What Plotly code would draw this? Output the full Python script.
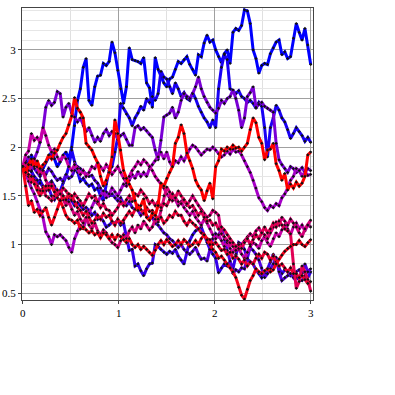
import plotly.graph_objects as go

# sample positions: 101 steps from 0 to 3
n_points = 101
x_step = 0.03
x_values = [round(i * x_step, 2) for i in range(n_points)]

walk_00 = [1.80,1.86,1.83,1.92,1.85,1.81,1.74,1.78,1.84,1.90,1.95,1.88,1.80,1.85,1.91,1.95,1.88,2.00,2.22,2.48,
           2.60,2.82,2.91,2.48,2.43,2.62,2.73,2.74,2.86,2.84,2.88,3.08,2.97,2.79,2.60,2.45,2.62,3.02,2.90,2.89,
           2.88,2.86,2.92,2.66,2.61,2.41,2.92,2.80,2.72,2.66,2.62,2.70,2.72,2.80,2.88,2.86,2.90,2.93,2.85,2.80,
           2.74,2.95,2.93,3.07,3.15,3.08,3.10,3.00,2.93,2.87,2.96,3.00,2.86,3.18,3.22,3.20,3.25,3.41,3.40,3.27,
           3.00,2.91,2.76,2.84,2.86,2.85,2.96,3.02,3.08,3.10,2.95,2.98,2.91,2.93,3.12,3.27,3.18,3.10,3.22,3.05,2.85]
walk_01 = [1.80,1.74,1.79,1.75,1.68,1.62,1.66,1.60,1.56,1.62,1.65,1.60,1.52,1.55,1.63,1.70,1.80,1.97,1.85,1.74,
           1.65,1.68,1.63,1.60,1.62,1.56,1.58,1.50,1.45,1.62,1.76,1.80,1.95,2.10,2.45,2.40,2.34,2.30,2.22,2.30,
           2.35,2.42,2.38,2.50,2.46,2.52,2.48,2.55,2.78,2.72,2.70,2.62,2.55,2.66,2.60,2.52,2.56,2.50,2.48,2.56,
           2.50,2.42,2.36,2.30,2.26,2.20,2.28,2.20,2.60,2.82,2.95,2.90,2.60,2.58,2.55,2.58,2.52,2.50,2.46,2.48,
           2.45,2.40,2.46,2.42,2.20,1.90,2.20,2.30,2.43,2.38,2.30,2.26,2.18,2.09,2.14,2.20,2.16,2.12,2.06,2.10,2.05]
walk_02 = [1.80,1.84,1.78,1.75,1.70,1.66,1.63,1.60,1.55,1.58,1.50,1.46,1.52,1.55,1.50,1.44,1.48,1.45,1.40,1.43,
           1.40,1.36,1.38,1.35,1.30,1.33,1.26,1.28,1.24,1.18,1.20,1.23,1.22,1.25,1.20,1.22,1.08,0.94,0.95,0.78,
           0.80,0.73,0.68,0.75,0.80,0.81,1.00,0.98,0.95,0.92,0.90,0.93,0.91,0.95,0.88,0.84,0.80,0.92,1.04,1.10,
           1.14,1.16,1.18,1.10,1.02,0.95,0.90,0.86,0.71,0.76,0.80,0.78,0.82,0.75,0.90,1.02,1.00,0.95,0.85,0.82,
           0.80,0.74,0.70,0.66,0.70,0.75,0.82,0.90,0.82,0.76,0.70,0.74,0.72,0.68,0.70,0.66,0.64,0.63,0.68,0.66,0.72]
walk_03 = [1.80,1.78,1.83,1.85,1.78,1.74,1.70,1.76,1.72,1.78,1.75,1.70,1.66,1.68,1.65,1.72,1.68,1.70,1.76,1.80,
           1.78,1.75,1.72,1.70,1.71,1.66,1.63,1.58,1.52,1.54,1.50,1.52,1.48,1.45,1.48,1.42,1.40,1.44,1.38,1.36,
           1.35,1.30,1.34,1.30,1.26,1.28,1.22,1.20,1.16,1.12,1.10,1.06,1.04,1.00,0.97,1.00,0.95,0.92,0.90,0.93,
           0.97,0.90,0.85,0.86,0.83,0.95,1.06,1.11,1.08,1.18,1.05,0.94,0.83,0.70,0.74,0.72,0.76,0.75,0.86,0.97,
           0.94,0.90,0.84,0.76,0.66,0.70,0.75,0.80,0.87,0.72,0.63,0.66,0.68,0.70,0.66,0.72,0.74,0.70,0.80,0.72,0.75]
walk_04 = [1.80,1.86,1.90,1.76,1.88,1.95,2.05,2.18,2.41,2.48,2.43,2.46,2.57,2.55,2.31,2.41,2.45,2.35,2.31,2.26,
           2.30,2.22,2.16,2.20,2.12,2.05,2.10,2.06,2.14,2.18,2.12,2.16,2.14,2.08,2.12,2.14,2.08,2.02,2.02,2.20,
           2.22,2.18,2.20,2.17,2.13,2.10,1.97,1.87,2.07,2.31,2.33,2.35,2.41,2.30,2.36,2.48,2.55,2.52,2.50,2.55,
           2.62,2.72,2.60,2.52,2.46,2.41,2.38,2.35,2.40,2.48,2.45,2.50,2.52,2.59,2.50,2.38,2.20,2.30,2.52,2.56,
           2.62,2.41,2.44,2.46,2.42,2.40,2.38,2.36,2.04,1.87,1.82,1.78,1.74,1.80,1.78,1.74,1.76,1.79,1.74,1.78,1.76]
walk_05 = [1.80,1.72,1.65,1.58,1.52,1.44,1.35,1.28,1.13,1.08,1.00,1.10,1.08,1.10,1.07,1.04,0.97,0.92,1.06,1.14,
           1.20,1.16,1.26,1.32,1.38,1.45,1.42,1.50,1.55,1.48,1.52,1.58,1.54,1.50,1.56,1.62,1.60,1.66,1.72,1.68,
           1.75,1.70,1.74,1.70,1.78,1.82,1.86,1.90,1.95,1.88,1.95,1.85,1.80,1.86,1.84,1.90,1.86,1.92,1.98,2.02,
           2.00,1.96,1.92,1.95,1.98,1.97,2.00,1.97,1.93,1.90,1.92,1.96,1.93,1.98,1.95,1.96,1.92,1.86,1.80,1.74,
           1.66,1.58,1.48,1.44,1.38,1.35,1.40,1.38,1.42,1.40,1.48,1.52,1.58,1.66,1.70,1.78,1.76,1.70,1.75,1.71,1.72]
walk_06 = [1.80,1.92,1.96,2.14,2.07,2.10,2.05,2.20,2.12,2.02,1.95,1.98,1.90,1.85,1.92,1.88,1.80,1.76,1.82,1.78,
           1.72,1.76,1.70,1.74,1.80,1.78,1.84,1.80,1.76,1.82,1.78,1.72,1.76,1.80,1.74,1.68,1.63,1.70,1.76,1.80,
           1.85,1.82,1.87,1.84,1.80,1.76,1.70,1.66,1.63,1.58,1.52,1.48,1.52,1.46,1.40,1.44,1.38,1.34,1.30,1.34,
           1.28,1.24,1.20,1.26,1.22,1.16,1.10,1.06,1.10,1.04,0.98,1.02,0.96,0.92,0.98,0.95,0.90,0.86,0.92,0.98,
           1.02,1.00,0.96,1.04,1.08,1.02,0.98,1.06,1.12,1.08,1.15,1.20,1.16,1.10,1.18,1.22,1.16,1.20,1.14,1.20,1.18]
walk_07 = [1.80,1.84,1.76,1.82,1.88,1.80,1.72,1.76,1.66,1.60,1.64,1.56,1.50,1.54,1.46,1.40,1.44,1.36,1.30,1.34,
           1.26,1.22,1.28,1.20,1.16,1.22,1.14,1.10,1.15,1.12,1.06,1.02,1.00,0.97,1.04,1.10,1.06,1.14,1.18,1.12,
           1.20,1.16,1.24,1.20,1.15,1.18,1.26,1.23,1.35,1.50,1.59,1.54,1.45,1.48,1.44,1.42,1.46,1.40,1.45,1.50,
           1.45,1.40,1.36,1.32,1.28,1.30,1.35,1.33,1.30,1.11,1.08,1.04,1.02,0.98,0.94,0.96,1.00,1.04,1.08,1.11,
           1.08,1.14,1.17,1.12,1.10,1.06,1.12,1.18,1.23,1.20,1.28,1.24,1.20,1.26,1.22,1.18,1.12,1.08,1.16,1.20,1.25]
walk_08 = [1.80,1.74,1.70,1.64,1.66,1.60,1.55,1.58,1.50,1.48,1.45,1.50,1.56,1.52,1.58,1.55,1.50,1.46,1.52,1.48,
           1.45,1.40,1.46,1.52,1.48,1.50,1.44,1.38,1.42,1.36,1.35,1.30,1.34,1.38,1.44,1.40,1.46,1.50,1.44,1.52,
           1.50,1.56,1.52,1.48,1.42,1.45,1.40,1.44,1.38,1.42,1.40,1.46,1.52,1.48,1.55,1.50,1.46,1.42,1.38,1.40,
           1.35,1.30,1.34,1.28,1.24,1.25,1.20,1.22,1.16,1.18,1.15,1.10,1.06,1.02,0.98,1.00,0.96,1.02,1.06,1.00,
           1.05,1.10,1.06,1.12,1.18,1.12,1.16,1.22,1.18,1.24,1.20,1.16,1.14,1.11,0.80,0.55,0.62,0.78,0.72,0.64,0.52]
walk_09 = [1.80,1.76,1.72,1.70,1.62,1.56,1.50,1.55,1.60,1.56,1.60,1.54,1.48,1.45,1.50,1.46,1.52,1.50,1.44,1.38,
           1.35,1.30,1.34,1.28,1.22,1.25,1.30,1.26,1.32,1.28,1.30,1.24,1.20,1.26,1.22,1.25,1.30,1.34,1.30,1.36,
           1.40,1.36,1.32,1.38,1.34,1.35,1.30,1.26,1.28,1.22,1.25,1.30,1.28,1.34,1.30,1.30,1.24,1.20,1.25,1.22,
           1.20,1.16,1.12,1.10,1.06,1.05,1.00,1.02,0.98,0.94,0.95,0.90,0.92,0.86,0.88,0.85,0.80,0.84,0.78,0.82,
           0.80,0.86,0.90,0.86,0.92,0.90,0.84,0.88,0.82,0.78,0.80,0.76,0.72,0.76,0.70,0.70,0.66,0.68,0.64,0.60,0.62]
walk_10 = [1.80,1.60,1.40,1.45,1.33,1.36,1.30,1.34,1.38,1.28,1.20,1.28,1.36,1.45,1.38,1.30,1.26,1.25,1.22,1.25,
           1.16,1.18,1.15,1.12,1.14,1.10,1.12,1.07,1.12,1.10,1.06,1.10,1.05,1.10,1.08,1.05,1.02,1.06,1.00,0.97,
           1.00,0.95,0.98,0.95,0.92,0.89,0.94,1.00,1.04,1.00,1.05,1.02,0.98,1.00,1.04,1.00,1.05,1.02,0.98,1.00,
           1.04,1.00,1.06,1.10,1.05,1.00,0.95,0.92,0.86,0.88,0.84,0.80,0.76,0.72,0.66,0.56,0.48,0.44,0.54,0.63,
           0.68,0.75,0.72,0.70,0.73,0.75,0.72,0.74,0.80,0.85,0.89,0.93,0.96,0.98,1.00,1.00,1.04,1.00,0.98,1.02,1.05]
walk_11 = [1.80,1.74,1.82,1.88,1.80,1.86,1.78,1.82,1.85,1.92,1.88,1.94,1.97,2.04,2.10,2.14,2.23,2.32,2.51,2.40,
           2.36,2.30,2.04,2.00,1.97,1.90,1.84,1.70,1.60,1.66,1.74,1.90,2.28,2.14,1.97,1.76,1.68,1.62,1.56,1.45,
           1.35,1.40,1.47,1.28,1.25,1.32,1.30,1.40,1.63,1.60,1.68,1.74,1.80,2.04,2.10,2.23,2.14,1.94,1.86,1.78,
           1.66,1.60,1.56,1.45,1.55,1.63,1.47,1.80,1.86,1.98,1.96,2.00,1.98,2.02,1.99,2.00,1.96,2.00,2.04,2.18,
           2.30,2.25,2.10,2.04,1.87,1.97,1.98,2.04,1.83,1.76,1.66,1.73,1.56,1.62,1.58,1.64,1.60,1.63,1.70,1.92,1.95]

walks = [walk_00, walk_01, walk_02, walk_03, walk_04, walk_05,
         walk_06, walk_07, walk_08, walk_09, walk_10, walk_11]

x_ticks = [0, 1, 2, 3]
y_ticks = [0.5, 1, 1.5, 2, 2.5, 3]

fig = go.Figure()
n = len(walks)
for k, w in enumerate(walks):
    t = k / (n - 1)
    f = 1 / max(t, 1 - t) ** 0.6
    color = f"rgb({min(255, round(255*t*f))},0,{min(255, round(255*(1-t)*f))})"
    fig.add_trace(go.Scatter(
        x=x_values, y=w, mode="lines+markers",
        line=dict(color=color, width=3),
        marker=dict(symbol="diamond", size=2.5, color="#111"),
        showlegend=False, hoverinfo="skip"))

axis_common = dict(
    showline=True, linecolor="#444", linewidth=1, mirror=True,
    gridcolor="#a0a0a0", gridwidth=1, zeroline=False, automargin=False,
    ticks="outside", ticklen=3, tickcolor="#444",
    tickfont=dict(family="Liberation Serif", size=11, color="black"),
)

fig.update_layout(
    width=395, height=395,
    margin=dict(l=22, r=82, t=8, b=95),
    paper_bgcolor="white", plot_bgcolor="white",
    xaxis=dict(range=[-0.008, 3.024], tickvals=x_ticks,
               minor=dict(dtick=0.5, showgrid=True, gridcolor="#e0e0e0", ticks=""),
               **axis_common),
    yaxis=dict(range=[0.43, 3.43], tickvals=y_ticks,
               minor=dict(dtick=0.1, showgrid=True, gridcolor="#e6e6e6", ticks=""),
               **axis_common),
)

# remove the page's default 8px body margin so the figure sits at the window corner
fig.write_html("out.html", config={"displayModeBar": False},
               post_script="document.body.style.margin='0';")
